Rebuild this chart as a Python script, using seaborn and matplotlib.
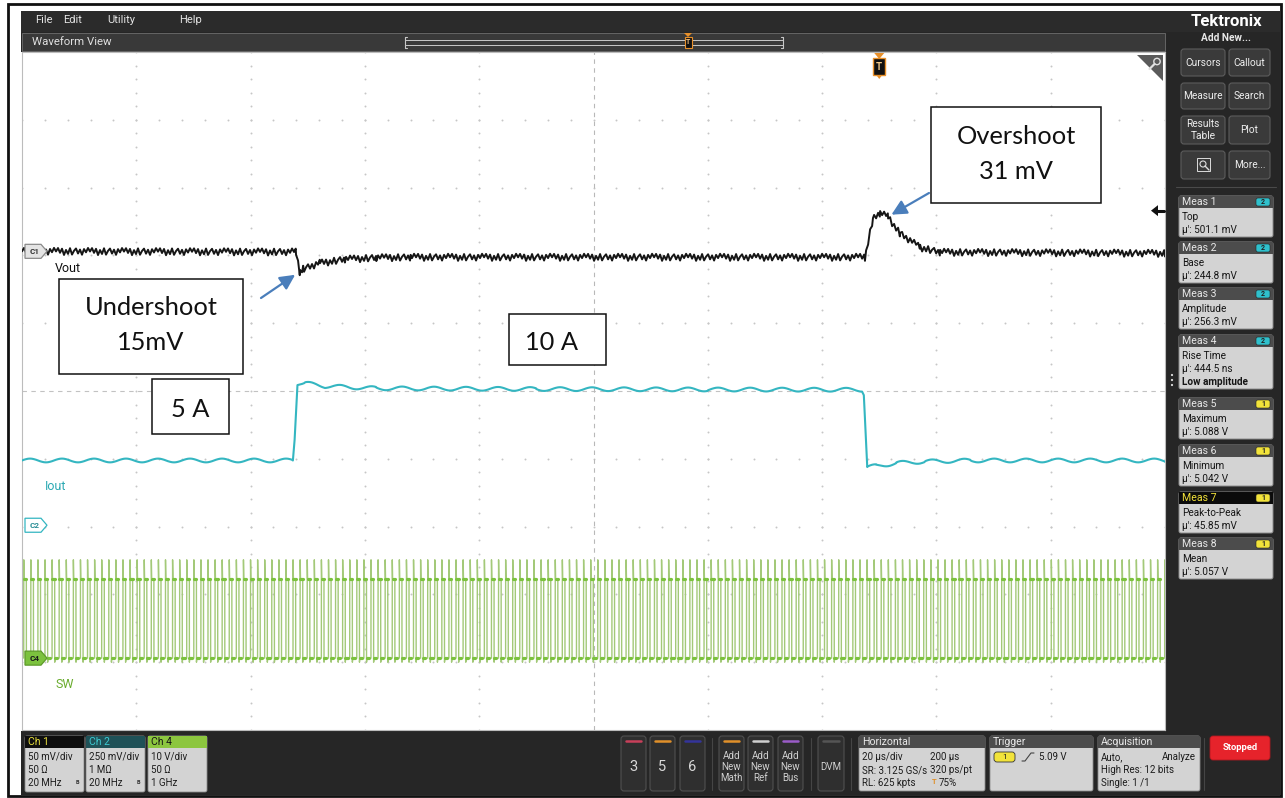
import numpy as np
import seaborn as sns
import matplotlib.pyplot as plt
from matplotlib.patches import Rectangle, FancyBboxPatch, Polygon, Circle

# scope screen: 20 us/div, 10 x 10 divisions
us_per_div = 20
h_divs = 10
v_divs = 10

# Ch1 - Vout, deviation from the 5 A level (mV), 50 mV/div
vout_t_us = [0, 47.9, 48.6, 49.2, 52.1, 56.5, 62.0, 68.0, 147.5, 148.9, 150.1, 151.5, 153.6, 157.1, 160.6, 200]
vout_mv = [0, -0.5, -15.0, -13.0, -8.8, -5.9, -4.8, -4.4, -4.4, 24.0, 28.0, 25.5, 13.3, 2.9, -0.7, -1.5]
vout_noise_mv = [0.0, 2.5, -1.0, 2.0, -2.6, 1.1, -1.8, 2.4, -2.3, 0.5, 2.2, -1.5, 1.4, -2.4, 1.8, -0.6, 2.6]
ch1_mv_per_div = 50
ch1_offset_div = 2.06
trig_level_mv = 30

# Ch2 - Iout (A)
iout_t_us = [0, 47.4, 47.7, 48.2, 49.5, 53.0, 62.0, 90.0, 120.0, 147.0, 147.3, 147.9, 149.5, 153.0, 158.0, 166.0, 200]
iout_a = [5.0, 5.0, 6.5, 10.3, 10.3, 10.1, 9.95, 9.9, 9.87, 9.85, 9.6, 4.55, 4.62, 4.82, 4.93, 5.0, 5.0]
iout_ripple_a = [0.0, 0.05, 0.09, 0.12, 0.13, 0.12, 0.09, 0.05, 0.0, -0.05, -0.09, -0.12, -0.13, -0.12, -0.09, -0.05]
ch2_a_per_div = 4.65
ch2_offset_div = -2.10
ch2_marker_div = -1.98

# Ch4 - SW node (V), 10 V/div
sw_period_us = 1.24
sw_duty = 0.37
sw_low_v = 0.0
sw_high_v = 11.7
sw_spike_v = 14.5
sw_dip_v = -0.6
ch4_v_per_div = 10
ch4_offset_div = -3.94

sample_us = 0.35

VOUT_C = "#161616"
IOUT_C = "#34b6c1"
SW_C = "#7cc23e"
SW_EDGE_C = "#a3c978"
ARROW_C = "#4a7ebb"
UI = ["Roboto", "DejaVu Sans"]
NOTE = ["Lato", "DejaVu Sans"]

sns.set_style("white")
plt.rcParams["font.family"] = UI

W, H = 1285, 798
PX0, PX1, PY0, PY1 = 22, 1165, 52, 730


def div_px(d):
    return PY0 + (v_divs / 2 - d) * (PY1 - PY0) / v_divs


def rect(a, x0, y0, x1, y1, fc, ec="none", lw=0.8, r=0, z=1):
    if r:
        p = FancyBboxPatch((x0 + r, y0 + r), x1 - x0 - 2 * r, y1 - y0 - 2 * r,
                           boxstyle=f"round,pad={r}", fc=fc, ec=ec, lw=lw, zorder=z)
    else:
        p = Rectangle((x0, y0), x1 - x0, y1 - y0, fc=fc, ec=ec, lw=lw, zorder=z)
    a.add_patch(p)


def txt(a, x, y, s, size=7, color="#111111", ha="left", va="center", weight="normal", family=UI, z=5):
    a.text(x, y, s, fontsize=size, color=color, ha=ha, va=va, fontweight=weight, family=family, zorder=z)


fig = plt.figure(figsize=(W / 100, H / 100), dpi=100)
bg = fig.add_axes([0, 0, 1, 1])
bg.set_xlim(0, W)
bg.set_ylim(H, 0)
bg.axis("off")
bg.set_zorder(0)

# ---- waveform traces ----
ax = fig.add_axes([PX0 / W, 1 - PY1 / H, (PX1 - PX0) / W, (PY1 - PY0) / H])
ax.set_zorder(2)
ax.set_facecolor("white")

t_end = us_per_div * h_divs
t_v = np.union1d(np.arange(0, t_end + 0.01, sample_us), vout_t_us)
vout = np.interp(t_v, vout_t_us, vout_mv) + np.resize(vout_noise_mv, t_v.size)
vout_div = ch1_offset_div + vout / ch1_mv_per_div

t_i = np.union1d(np.arange(0, t_end + 0.01, sample_us), iout_t_us)
iout = np.interp(t_i, iout_t_us, iout_a) + np.resize(iout_ripple_a, t_i.size)
iout_div = ch2_offset_div + iout / ch2_a_per_div

on_us = sw_duty * sw_period_us
pulse_dt = [0.0, 0.01, 0.07, on_us, on_us + 0.01, on_us + 0.07]
pulse_v = [sw_low_v, sw_spike_v, sw_high_v, sw_high_v, sw_dip_v, sw_low_v]
starts = np.arange(0.3, t_end, sw_period_us)
t_sw = np.add.outer(starts, pulse_dt).ravel()
v_sw = np.tile(pulse_v, starts.size)
keep = t_sw <= t_end
sw_div = ch4_offset_div + v_sw[keep] / ch4_v_per_div
t_sw = t_sw[keep]

# brighter flat parts of each pulse (top plateau, ringing just after the fall)
flat_dt = [[0.06, on_us - 0.02], [on_us + 0.03, on_us + 0.4]]
flat_v = [sw_high_v, sw_low_v]
seg_t, seg_v, seg_id = [], [], []
for k, t0 in enumerate(starts):
    for j in range(2):
        a, b = t0 + flat_dt[j][0], min(t0 + flat_dt[j][1], t_end)
        if a < t_end:
            seg_t += [a, b]
            seg_v += [ch4_offset_div + flat_v[j] / ch4_v_per_div] * 2
            seg_id += [2 * k + j] * 2

# graticule: dotted majors, dashed centre lines
minor_x = np.arange(0, t_end + 0.01, us_per_div / 5)
minor_y = np.arange(-v_divs / 2, v_divs / 2 + 0.01, 0.2)
for k in range(1, h_divs):
    if k != h_divs // 2:
        ax.plot(np.full(minor_y.size, k * us_per_div), minor_y, ls="none", marker="o",
                ms=1.4, mew=0, color="#c6c6c6", zorder=1)
for j in range(-v_divs // 2 + 1, v_divs // 2):
    if j != 0:
        ax.plot(minor_x, np.full(minor_x.size, j), ls="none", marker="o",
                ms=1.4, mew=0, color="#c6c6c6", zorder=1)
ax.axhline(0, color="#c2c2c2", lw=0.8, ls=(0, (4, 4)), zorder=1)
ax.axvline(t_end / 2, color="#b8b8b8", lw=0.8, ls=(0, (4, 4)), zorder=1)

sns.lineplot(x=t_sw, y=sw_div, ax=ax, color=SW_EDGE_C, linewidth=1.0, estimator=None, sort=False, zorder=3)
sns.lineplot(x=seg_t, y=seg_v, units=seg_id, ax=ax, color=SW_C, linewidth=2.3,
             estimator=None, sort=False, zorder=3.5)
sns.lineplot(x=t_i, y=iout_div, ax=ax, color=IOUT_C, linewidth=1.5, estimator=None, sort=False, zorder=4)
sns.lineplot(x=t_v, y=vout_div, ax=ax, color=VOUT_C, linewidth=1.4, estimator=None, sort=False, zorder=5)

ax.set_xlim(0, t_end)
ax.set_ylim(-v_divs / 2, v_divs / 2)
ax.set_xticks([])
ax.set_yticks([])
ax.set_xlabel("")
ax.set_ylabel("")
for s in ax.spines.values():
    s.set_color("#bcbcbc")
    s.set_linewidth(0.8)

# arrows to the undershoot dip and overshoot peak
i_dip = int(np.argmin(vout_mv))
i_peak = int(np.argmax(vout_mv)) + 1
arrow = dict(arrowstyle="-|>,head_length=0.9,head_width=0.45", color=ARROW_C, lw=1.6, shrinkA=0)
ax.annotate("", xy=(vout_t_us[i_dip], ch1_offset_div + vout_mv[i_dip] / ch1_mv_per_div),
            xytext=(261, H - 298), textcoords="figure pixels",
            arrowprops=dict(arrow, shrinkB=4), zorder=6)
ax.annotate("", xy=(vout_t_us[i_peak], ch1_offset_div + vout_mv[i_peak] / ch1_mv_per_div),
            xytext=(929, H - 193), textcoords="figure pixels",
            arrowprops=dict(arrow, shrinkB=3), zorder=6)

# ---- screen chrome ----
rect(bg, 21, 11, 1280, 32, "#2b2b2b")
for x, s in [(35, "File"), (63, "Edit"), (107, "Utility"), (179, "Help")]:
    txt(bg, x, 20, s, size=8, color="#e4e4e4")
rect(bg, 21, 32, 1167, 52, "#262626")
rect(bg, 22, 33, 1165, 51, "#393939", ec="#6e6e6e", lw=0.6)
txt(bg, 32, 42, "Waveform View", size=8.2, color="#e0e0e0")
rect(bg, 405, 39.5, 783, 45, "none", ec="#c8c8c8", lw=0.7)
bg.plot([407, 405, 405, 407], [37, 37, 48, 48], color="#c8c8c8", lw=0.8)
bg.plot([781, 783, 783, 781], [37, 37, 48, 48], color="#c8c8c8", lw=0.8)
bg.add_patch(Polygon([(684, 33), (692, 33), (688, 37)], closed=True, fc="#e8902a", ec="none", zorder=3))
rect(bg, 684.5, 37, 691.5, 48, "#111111", ec="#e8902a", lw=0.8, z=3)
txt(bg, 688, 42.5, "T", size=5, color="#f0c080", ha="center", weight="bold")

# right panel
rect(bg, 1166, 32, 1280, 731, "#262626")
txt(bg, 1226, 21, "Tektronix", size=12, weight="bold", color="white", ha="center")
txt(bg, 1226, 38, "Add New...", size=7.3, weight="bold", color="#e8e8e8", ha="center")
panel_buttons = [(1181, 1225, 49, 76, "Cursors"), (1229, 1270, 49, 76, "Callout"),
                 (1181, 1225, 83, 109, "Measure"), (1229, 1270, 83, 109, "Search"),
                 (1181, 1225, 116, 144, "Results\nTable"), (1229, 1270, 116, 144, "Plot"),
                 (1181, 1225, 151, 179, ""), (1229, 1270, 151, 179, "More...")]
for x0, x1, y0, y1, s in panel_buttons:
    rect(bg, x0, y0, x1, y1, "#3a3a3a", ec="#5c5c5c", lw=0.8, r=3, z=2)
    txt(bg, (x0 + x1) / 2, (y0 + y1) / 2, s, size=7.3, color="#eeeeee", ha="center", z=4)
rect(bg, 1197, 158, 1210, 171, "none", ec="#dddddd", lw=0.7, z=3)
bg.add_patch(Circle((1203, 164), 3, fc="none", ec="#dddddd", lw=0.8, zorder=4))
bg.plot([1205, 1209], [166, 170], color="#dddddd", lw=1.0, zorder=4)
bg.plot([1176, 1276], [187, 187], color="#4a4a4a", lw=0.8)
for yy in (375, 380, 385):
    bg.add_patch(Circle((1172, yy), 1.1, fc="#dddddd", ec="none", zorder=4))

meas = [("Meas 1", "2", ["Top", "μ': 501.1 mV"]),
        ("Meas 2", "2", ["Base", "μ': 244.8 mV"]),
        ("Meas 3", "2", ["Amplitude", "μ': 256.3 mV"]),
        ("Meas 4", "2", ["Rise Time", "μ': 444.5 ns", "Low amplitude"]),
        ("Meas 5", "1", ["Maximum", "μ': 5.088 V"]),
        ("Meas 6", "1", ["Minimum", "μ': 5.042 V"]),
        ("Meas 7", "1", ["Peak-to-Peak", "μ': 45.85 mV"]),
        ("Meas 8", "1", ["Mean", "μ': 5.057 V"])]
meas_top = [196, 242, 288, 335, 398, 445, 492, 538]
badge_c = {"1": "#f2e33a", "2": "#2fc0cc"}
for (name, ch, lines), y0 in zip(meas, meas_top):
    y1 = y0 + 15 + 13 * len(lines)
    sel = name == "Meas 7"
    rect(bg, 1179, y0, 1273, y1, "#d3d3d3", ec="#8c8c8c", lw=0.7, r=2, z=2)
    rect(bg, 1179, y0, 1273, y0 + 12, "#0b0b0b" if sel else "#4c4c4c", z=3)
    txt(bg, 1182, y0 + 6, name, size=7.6, color="#f2e23a" if sel else "#e8e8e8", z=4)
    rect(bg, 1256, y0 + 2, 1270, y0 + 10, badge_c[ch], ec="#222222", lw=0.4, r=2, z=4)
    txt(bg, 1263, y0 + 6, ch, size=5, color="#222222", ha="center", weight="bold", z=5)
    for i, s in enumerate(lines):
        txt(bg, 1182, y0 + 21 + 13 * i, s, size=7.2, color="#151515",
            weight="bold" if s == "Low amplitude" else "normal", z=4)

# bottom status bar
rect(bg, 21, 731, 1280, 795, "#262626")
ch_boxes = [(25, 84, "Ch 1", "#0e0e0e", "#e8df3c", ["50 mV/div", "50 Ω", "20 MHz"]),
            (86, 145, "Ch 2", "#1f5157", "#3ccad2", ["250 mV/div", "1 MΩ", "20 MHz"]),
            (148, 207, "Ch 4", "#8cc63f", "#141414", ["10 V/div", "50 Ω", "1 GHz"])]
for x0, x1, name, hc, tc, rows in ch_boxes:
    rect(bg, x0, 736, x1, 792, "#d3d3d3", ec="#8c8c8c", lw=0.6, r=2, z=2)
    rect(bg, x0, 736, x1, 748, hc, z=3)
    txt(bg, x0 + 3, 742, name, size=7.5, color=tc, z=4)
    for i, s in enumerate(rows):
        txt(bg, x0 + 3, 757 + 13 * i, s, size=7, color="#1c1c1c", z=4)
    if name != "Ch 4":
        txt(bg, x1 - 8, 782, "B", size=4, color="#333333", weight="bold", z=4)

for x0, lab, col in [(621, "3", "#c8405a"), (650, "5", "#e0902a"), (680, "6", "#34349a")]:
    rect(bg, x0, 736, x0 + 25, 791, "#2f2f2f", ec="#505050", lw=0.8, r=3, z=2)
    bg.plot([x0 + 5, x0 + 20], [741, 741], color=col, lw=1.8, zorder=3)
    txt(bg, x0 + 12.5, 767, lab, size=10.5, color="#d8d8d8", ha="center", z=4)
for x0, lab, col in [(719, "Math", "#e0902a"), (748, "Ref", "#cfcfcf"), (778, "Bus", "#9a5cc8")]:
    rect(bg, x0, 736, x0 + 25, 791, "#2f2f2f", ec="#505050", lw=0.8, r=3, z=2)
    bg.plot([x0 + 5, x0 + 20], [741, 741], color=col, lw=1.8, zorder=3)
    for i, s in enumerate(["Add", "New", lab]):
        txt(bg, x0 + 12.5, 756 + 11 * i, s, size=7, color="#d0d0d0", ha="center", z=4)
rect(bg, 818, 736, 844, 791, "#2f2f2f", ec="#505050", lw=0.8, r=3, z=2)
bg.plot([823, 839], [741, 741], color="#555555", lw=1.8, zorder=3)
txt(bg, 831, 767, "DVM", size=7, color="#d0d0d0", ha="center", z=4)
for x in (712, 811, 851, 1204):
    bg.plot([x, x], [738, 790], color="#454545", lw=0.8)

info = [(859, 985, "Horizontal"), (990, 1093, "Trigger"), (1098, 1200, "Acquisition")]
for x0, x1, name in info:
    rect(bg, x0, 736, x1, 791, "#d3d3d3", ec="#8c8c8c", lw=0.6, r=2, z=2)
    rect(bg, x0, 736, x1, 748, "#4c4c4c", z=3)
    txt(bg, x0 + 3, 742, name, size=7.6, color="#e8e8e8", z=4)
for i, (a, b) in enumerate([("20 µs/div", "200 µs"), ("SR: 3.125 GS/s", "320 ps/pt"), ("RL: 625 kpts", "75%")]):
    txt(bg, 862, 757 + 13 * i, a, size=7, color="#1c1c1c", z=4)
    txt(bg, 939 if i == 2 else 930, 757 + 13 * i, b, size=7, color="#1c1c1c", z=4)
txt(bg, 932, 782, "T", size=5.5, color="#e0902a", weight="bold", z=4)
rect(bg, 994, 752, 1015, 762, "#f2e33a", ec="#333333", lw=0.6, r=3, z=4)
txt(bg, 1004.5, 757, "1", size=6, color="#222222", ha="center", z=5)
bg.plot([1022, 1025, 1031, 1034], [761, 761, 753, 753], color="#444444", lw=0.8, zorder=4)
txt(bg, 1039, 757, "5.09 V", size=7, color="#1c1c1c", z=4)
txt(bg, 1101, 757, "Auto,", size=7, color="#1c1c1c", z=4)
txt(bg, 1196, 757, "Analyze", size=7, color="#1c1c1c", ha="right", z=4)
txt(bg, 1101, 770, "High Res: 12 bits", size=7, color="#1c1c1c", z=4)
txt(bg, 1101, 783, "Single: 1 /1", size=7, color="#1c1c1c", z=4)
rect(bg, 1210, 736, 1270, 760, "#e6232b", ec="#b01820", lw=0.6, r=3, z=2)
txt(bg, 1240, 748, "Stopped", size=6.8, color="white", ha="center", weight="bold", z=4)

# ---- overlay: channel markers, labels, call-out boxes ----
top = fig.add_axes([0, 0, 1, 1])
top.set_xlim(0, W)
top.set_ylim(H, 0)
top.axis("off")
top.set_zorder(3)


def chan_marker(y, label, fc, ec, tc):
    pts = [(25, y - 7), (41, y - 7), (47, y), (41, y + 7), (25, y + 7)]
    top.add_patch(Polygon(pts, closed=True, fc=fc, ec=ec, lw=0.9, zorder=4))
    txt(top, 35, y, label, size=5.8, color=tc, ha="center", weight="bold", z=5)


chan_marker(div_px(ch1_offset_div), "C1", "#e4e4e4", "#8a8a8a", "#333333")
chan_marker(div_px(ch2_marker_div), "C2", "white", IOUT_C, "#2a8e96")
chan_marker(div_px(ch4_offset_div), "C4", SW_C, "#5d9a2a", "#1a1a1a")
txt(top, 55, 269, "Vout", size=9, color="#111111")
txt(top, 45, 486, "Iout", size=9, color="#2ba9b3")
txt(top, 55, 684, "SW", size=9, color="#6aac2e")

# trigger position marker and trigger level arrow
tx = PX0 + 0.75 * (PX1 - PX0)
top.add_patch(Polygon([(tx - 5, 53), (tx + 5, 53), (tx, 59)], closed=True, fc="#e8902a", ec="none", zorder=4))
rect(top, tx - 6, 58, tx + 6, 75, "#111111", ec="#e8902a", lw=1.0, z=4)
top.add_patch(Polygon([(tx - 3, 75), (tx + 3, 75), (tx, 79)], closed=True, fc="#e8902a", ec="none", zorder=4))
txt(top, tx, 66.5, "T", size=7, color="#f3c98a", ha="center", weight="bold", z=5)
ty = div_px(ch1_offset_div + trig_level_mv / ch1_mv_per_div)
top.add_patch(Polygon([(1151, ty), (1158, ty - 5.5), (1158, ty + 5.5)], closed=True, fc="#111111", ec="none", zorder=4))
top.plot([1156, 1164], [ty, ty], color="#111111", lw=2.2, zorder=4)
top.add_patch(Polygon([(1137, 55), (1163, 55), (1163, 81)], closed=True, fc="#5a5a5a", ec="none", zorder=4))
top.add_patch(Circle((1157, 61.5), 3.2, fc="none", ec="#e0e0e0", lw=1.0, zorder=5))
top.plot([1154.5, 1149.5], [64, 69], color="#e0e0e0", lw=1.6, zorder=5)

notes = [(931, 107, 1101, 203, ["Overshoot", "31 mV"], [144, 179]),
         (59, 279, 243, 374, ["Undershoot", "15mV"], [315, 350]),
         (509, 314, 606, 365, ["10 A"], [350]),
         (152, 379, 229, 434, ["5 A"], [417])]
for x0, y0, x1, y1, lines, bases in notes:
    rect(top, x0, y0, x1, y1, "white", ec="#111111", lw=1.1, z=6)
    cx = (x0 + x1) / 2 - (6 if lines == ["10 A"] else 0)
    for s, b in zip(lines, bases):
        txt(top, cx, b, s, size=18.3, color="#111111", ha="center", va="baseline", family=NOTE, z=7)

# outer frame of the screenshot
top.add_patch(Rectangle((8, 4), 1273, 792, fc="none", ec="#111111", lw=2.0, zorder=8))

fig.savefig("out.png", dpi=100)
